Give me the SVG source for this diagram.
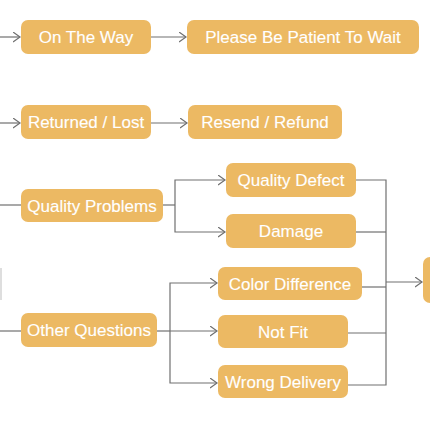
<svg xmlns="http://www.w3.org/2000/svg" width="430" height="430" viewBox="0 0 430 430">
<style>
.box{fill:#ECB963;}
.lbl{fill:#ffffff;stroke:#ffffff;stroke-width:0.12;font-family:"Liberation Sans",Arial,sans-serif;font-size:17px;text-anchor:middle;}
.ln{fill:none;stroke:#707070;stroke-width:1.2;}
.arr{marker-end:url(#ah);}
</style>
<defs>
<marker id="ah" markerUnits="userSpaceOnUse" markerWidth="10" markerHeight="12" refX="7.5" refY="5.5" orient="auto">
<path d="M0.5,0.5 L7.5,5.5 L0.5,10.5" fill="none" stroke="#707070" stroke-width="1.2"/>
</marker>
</defs>
<rect width="430" height="430" fill="#ffffff"/>
<g id="connectors">
<line class="ln arr" x1="0" y1="37" x2="20" y2="37"/>
<line class="ln arr" x1="151" y1="37" x2="186" y2="37"/>
<line class="ln arr" x1="0" y1="123" x2="20" y2="123"/>
<line class="ln arr" x1="151" y1="123" x2="187" y2="123"/>
<line class="ln" x1="0" y1="205" x2="21" y2="205"/>
<polyline class="ln" points="163,205 175,205"/>
<polyline class="ln arr" points="175,205 175,180 225,180"/>
<polyline class="ln arr" points="175,205 175,232 225,232"/>
<line class="ln" x1="0" y1="331" x2="21" y2="331"/>
<line class="ln" x1="1" y1="268" x2="1" y2="300" style="stroke:#c8c8c8"/>
<polyline class="ln" points="157,331 170,331"/>
<polyline class="ln arr" points="170,331 170,283 217,283"/>
<line class="ln arr" x1="170" y1="331" x2="217" y2="331"/>
<polyline class="ln arr" points="170,331 170,383 217,383"/>
<polyline class="ln" points="356,180 386,180 386,385 348,385"/>
<line class="ln" x1="356" y1="232" x2="386" y2="232"/>
<line class="ln" x1="362" y1="287" x2="386" y2="287"/>
<line class="ln" x1="348" y1="333" x2="386" y2="333"/>
<line class="ln arr" x1="386" y1="282" x2="422" y2="282"/>
</g>
<g id="on-the-way"><rect class="box" x="21" y="20" width="130" height="34" rx="7"/><text class="lbl" x="86" y="43">On The Way</text></g>
<g id="please-wait"><rect class="box" x="187" y="20" width="232" height="34" rx="7"/><text class="lbl" x="303" y="43">Please Be Patient To Wait</text></g>
<g id="returned-lost"><rect class="box" x="21" y="105" width="130" height="34" rx="7"/><text class="lbl" x="86" y="128">Returned / Lost</text></g>
<g id="resend-refund"><rect class="box" x="188" y="105" width="154" height="34" rx="7"/><text class="lbl" x="265" y="128">Resend / Refund</text></g>
<g id="quality-problems"><rect class="box" x="21" y="189" width="142" height="33" rx="7"/><text class="lbl" x="92" y="211.5">Quality Problems</text></g>
<g id="quality-defect"><rect class="box" x="226" y="163" width="130" height="34" rx="7"/><text class="lbl" x="291" y="186">Quality Defect</text></g>
<g id="damage"><rect class="box" x="226" y="214" width="130" height="34" rx="7"/><text class="lbl" x="291" y="237">Damage</text></g>
<g id="other-questions"><rect class="box" x="21" y="313" width="136" height="34" rx="7"/><text class="lbl" x="89" y="336">Other Questions</text></g>
<g id="color-difference"><rect class="box" x="218" y="267" width="144" height="33" rx="7"/><text class="lbl" x="290" y="289.5">Color Difference</text></g>
<g id="not-fit"><rect class="box" x="218" y="315" width="130" height="33" rx="7"/><text class="lbl" x="283" y="337.5">Not Fit</text></g>
<g id="wrong-delivery"><rect class="box" x="218" y="365" width="130" height="33" rx="7"/><text class="lbl" x="283" y="387.5">Wrong Delivery</text></g>
<g id="result"><rect class="box" x="423" y="257" width="60" height="46" rx="7"/></g>
</svg>
